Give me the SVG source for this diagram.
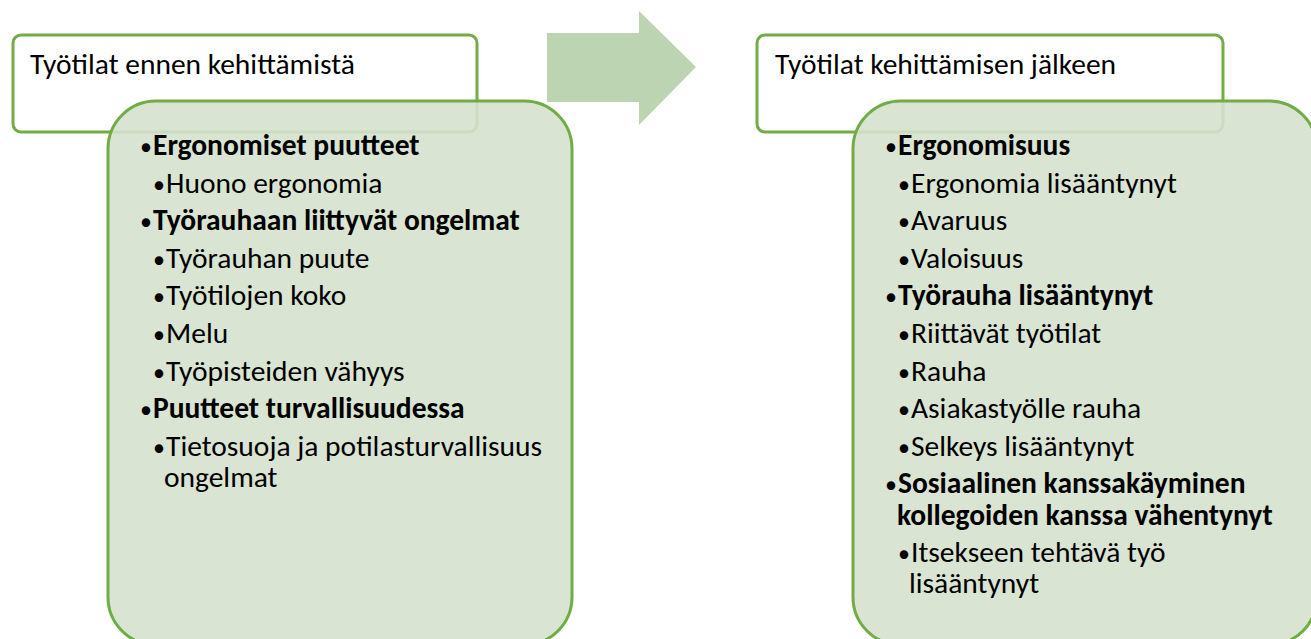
<svg xmlns="http://www.w3.org/2000/svg" width="1311" height="639" viewBox="0 0 1311 639">
  <style>
    .hdr { fill: #FFFFFF; stroke: #70AD47; stroke-width: 3; }
    .body { fill: #D5E1CD; fill-opacity: 0.9; stroke: #70AD47; stroke-width: 3; }
    .arrow { fill: #BCD4B2; }
    text { font-family: Carlito, Lato, "Liberation Sans", sans-serif; font-size: 29.5px; fill: #000000; }
    .b { font-weight: bold; }
    .bul { font-size: 24px; font-weight: normal; }
  </style>
  <rect width="1311" height="639" fill="#FFFFFF"/>

  <g id="connectors">
    <polygon class="arrow" points="547,33 639,33 639,11 696,67 639,125 639,102 547,102"/>
  </g>

  <g id="node-before">
    <rect class="hdr" x="13" y="35" width="464" height="97" rx="8" ry="8"/>
    <text x="30" y="74">Työtilat ennen kehittämistä</text>
    <rect class="body" x="108" y="101" width="464" height="544" rx="48" ry="48"/>
    <text class="b" y="155"><tspan class="bul" x="140">•</tspan><tspan x="153">Ergonomiset puutteet</tspan></text>
    <text y="192.6"><tspan class="bul" x="153">•</tspan><tspan x="166">Huono ergonomia</tspan></text>
    <text class="b" y="230.2"><tspan class="bul" x="140">•</tspan><tspan x="153">Työrauhaan liittyvät ongelmat</tspan></text>
    <text y="267.8"><tspan class="bul" x="153">•</tspan><tspan x="166">Työrauhan puute</tspan></text>
    <text y="305.4"><tspan class="bul" x="153">•</tspan><tspan x="166">Työtilojen koko</tspan></text>
    <text y="343"><tspan class="bul" x="153">•</tspan><tspan x="166">Melu</tspan></text>
    <text y="380.6"><tspan class="bul" x="153">•</tspan><tspan x="166">Työpisteiden vähyys</tspan></text>
    <text class="b" y="418.2"><tspan class="bul" x="140">•</tspan><tspan x="153">Puutteet turvallisuudessa</tspan></text>
    <text y="455.8"><tspan class="bul" x="153">•</tspan><tspan x="166">Tietosuoja ja potilasturvallisuus</tspan><tspan x="164" y="487">ongelmat</tspan></text>
  </g>

  <g id="node-after">
    <rect class="hdr" x="757" y="35" width="466" height="97" rx="8" ry="8"/>
    <text x="775" y="74">Työtilat kehittämisen jälkeen</text>
    <rect class="body" x="853" y="101" width="464" height="544" rx="48" ry="48"/>
    <text class="b" y="155"><tspan class="bul" x="885">•</tspan><tspan x="898">Ergonomisuus</tspan></text>
    <text y="192.6"><tspan class="bul" x="898">•</tspan><tspan x="911">Ergonomia lisääntynyt</tspan></text>
    <text y="230.2"><tspan class="bul" x="898">•</tspan><tspan x="911">Avaruus</tspan></text>
    <text y="267.8"><tspan class="bul" x="898">•</tspan><tspan x="911">Valoisuus</tspan></text>
    <text class="b" y="305.4"><tspan class="bul" x="885">•</tspan><tspan x="898">Työrauha lisääntynyt</tspan></text>
    <text y="343"><tspan class="bul" x="898">•</tspan><tspan x="911">Riittävät työtilat</tspan></text>
    <text y="380.6"><tspan class="bul" x="898">•</tspan><tspan x="911">Rauha</tspan></text>
    <text y="418.2"><tspan class="bul" x="898">•</tspan><tspan x="911">Asiakastyölle rauha</tspan></text>
    <text y="455.8"><tspan class="bul" x="898">•</tspan><tspan x="911">Selkeys lisääntynyt</tspan></text>
    <text class="b" y="493.4"><tspan class="bul" x="885">•</tspan><tspan x="898">Sosiaalinen kanssakäyminen</tspan><tspan x="897" y="524.5">kollegoiden kanssa vähentynyt</tspan></text>
    <text y="562"><tspan class="bul" x="898">•</tspan><tspan x="911">Itsekseen tehtävä työ</tspan><tspan x="909" y="593">lisääntynyt</tspan></text>
  </g>
</svg>
